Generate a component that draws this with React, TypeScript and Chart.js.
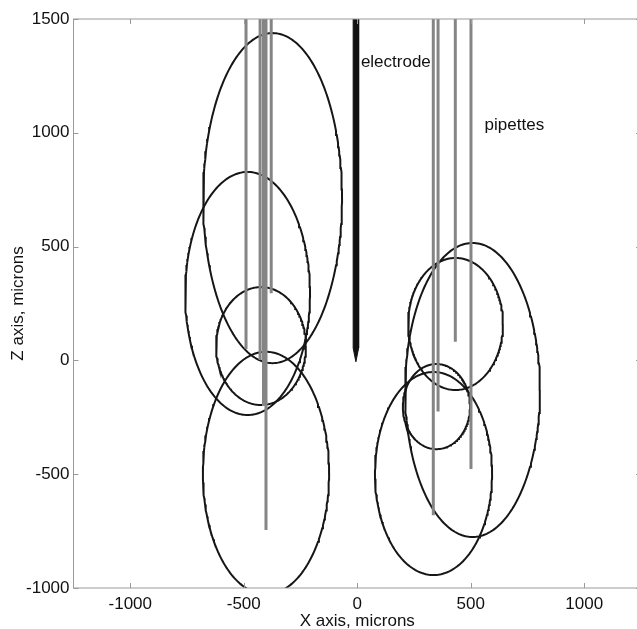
import React, { useEffect, useRef } from 'react';
import { Chart, registerables } from 'chart.js';

Chart.register(...registerables);

// Axis ticks
const xTickValues = [-1000, -500, 0, 500, 1000];
const zTickValues = [-1000, -500, 0, 500, 1000, 1500];

// Ellipses (centre and semi-axes, microns)
const ellipseCenterX = [-373, -483, -424, -402, 508, 433, 349, 336];
const ellipseCenterZ = [713, 294, 63, -495, -130, 160, -203, -497];
const ellipseRadiusX = [306, 275, 198, 278, 297, 209, 148, 258];
const ellipseRadiusZ = [725, 534, 259, 533, 646, 290, 187, 446];

// Pipettes (vertical gray shafts from the top down to the tip)
const pipetteX = [-490, -428, -413, -402, -379, 335, 356, 432, 501];
const pipetteTopZ = 1500;
const pipetteTipZ = [50, 2, -200, -745, 295, -680, -225, 82, -477];

// Electrode outline
const electrodeOutlineX = [-18, 6, 6, -6, -18, -18];
const electrodeOutlineZ = [1500, 1500, 54, -6, 54, 1500];

// Annotations
const annotationText = ['electrode', 'pipettes'];
const annotationX = [16, 561];
const annotationZ = [1290, 1012];

const FONT_FAMILY = '"Liberation Sans", Arial, Helvetica, sans-serif';
const TEXT_COLOR = '#111111';
const FRAME_COLOR = '#9a9a9a';

const framePlugin = {
  id: 'frameAndText',
  afterDatasetsDraw(chart: any) {
    const { ctx, chartArea, scales } = chart;
    const { left, right, top, bottom } = chartArea;
    ctx.save();
    ctx.strokeStyle = FRAME_COLOR;
    ctx.lineWidth = 1;
    ctx.strokeRect(left, top, right - left, bottom - top);
    const tl = 5;
    ctx.beginPath();
    xTickValues.forEach((v) => {
      const px = Math.round(scales.x.getPixelForValue(v)) + 0.5;
      ctx.moveTo(px, bottom);
      ctx.lineTo(px, bottom - tl);
      ctx.moveTo(px, top);
      ctx.lineTo(px, top + tl);
    });
    zTickValues.forEach((v) => {
      const py = Math.round(scales.y.getPixelForValue(v)) + 0.5;
      ctx.moveTo(left, py);
      ctx.lineTo(left + tl, py);
      ctx.moveTo(right, py);
      ctx.lineTo(right - tl, py);
    });
    ctx.stroke();

    ctx.fillStyle = TEXT_COLOR;
    ctx.font = `17px ${FONT_FAMILY}`;
    ctx.textAlign = 'left';
    ctx.textBaseline = 'alphabetic';
    annotationText.forEach((t, i) => {
      ctx.fillText(t, scales.x.getPixelForValue(annotationX[i]), scales.y.getPixelForValue(annotationZ[i]));
    });
    ctx.restore();
  },
};

export default function App() {
  const ref = useRef<HTMLCanvasElement>(null);

  useEffect(() => {
    const canvas = ref.current;
    if (!canvas) return;

    const ellipseSets = ellipseCenterX.map((cx, i) => {
      const pts: { x: number; y: number }[] = [];
      const n = 240;
      for (let k = 0; k <= n; k++) {
        const t = (k / n) * Math.PI * 2;
        pts.push({
          x: cx + ellipseRadiusX[i] * Math.cos(t),
          y: ellipseCenterZ[i] + ellipseRadiusZ[i] * Math.sin(t),
        });
      }
      return {
        data: pts,
        showLine: true,
        borderColor: '#161616',
        borderWidth: 2,
        pointRadius: 0,
        fill: false,
        tension: 0,
        order: 3,
      };
    });

    const pipetteSets = pipetteX.map((x, i) => ({
      data: [
        { x, y: pipetteTopZ },
        { x, y: pipetteTipZ[i] },
      ],
      showLine: true,
      borderColor: '#858585',
      borderWidth: 3,
      pointRadius: 0,
      fill: false,
      order: 2,
    }));

    const electrodeSet = {
      data: electrodeOutlineX.map((x, i) => ({ x, y: electrodeOutlineZ[i] })),
      showLine: true,
      borderColor: '#111111',
      backgroundColor: '#111111',
      borderWidth: 1,
      pointRadius: 0,
      fill: 'shape',
      tension: 0,
      order: 1,
    };

    const tickFont = { family: FONT_FAMILY, size: 17 };
    const titleFont = { family: FONT_FAMILY, size: 17, lineHeight: 0.9 };

    const chart = new Chart(canvas, {
      type: 'scatter',
      data: { datasets: [electrodeSet, ...pipetteSets, ...ellipseSets] as any },
      options: {
        responsive: false,
        devicePixelRatio: 1,
        animation: false,
        events: [],
        layout: { padding: { left: 0, top: 19, right: 4, bottom: 0 } },
        plugins: { legend: { display: false }, tooltip: { enabled: false } },
        scales: {
          x: {
            type: 'linear',
            min: -1250,
            max: 1250,
            afterBuildTicks: (s: any) => {
              s.ticks = xTickValues.map((v) => ({ value: v }));
            },
            afterFit: (s: any) => {
              s.height = 41;
            },
            grid: { display: false, drawTicks: false },
            border: { display: false },
            ticks: {
              padding: 6,
              font: tickFont,
              color: TEXT_COLOR,
              maxRotation: 0,
              autoSkip: false,
              callback: (v: any) => String(v),
            },
            title: {
              display: true,
              text: 'X axis, microns',
              font: titleFont,
              color: TEXT_COLOR,
              padding: { top: 0, bottom: 0 },
            },
          },
          y: {
            type: 'linear',
            min: -1000,
            max: 1500,
            afterBuildTicks: (s: any) => {
              s.ticks = zTickValues.map((v) => ({ value: v }));
            },
            afterFit: (s: any) => {
              s.width = 73.5;
            },
            grid: { display: false, drawTicks: false },
            border: { display: false },
            ticks: {
              padding: 4,
              font: tickFont,
              color: TEXT_COLOR,
              autoSkip: false,
              callback: (v: any) => String(v),
            },
            title: {
              display: true,
              text: 'Z axis, microns',
              font: titleFont,
              color: TEXT_COLOR,
              padding: { top: 11, bottom: 0 },
            },
          },
        },
      } as any,
      plugins: [framePlugin],
    });

    return () => chart.destroy();
  }, []);

  return (
    <div
      style={{
        position: 'fixed',
        left: 0,
        top: 0,
        width: 637,
        height: 629,
        overflow: 'hidden',
        background: '#ffffff',
      }}
    >
      <canvas ref={ref} width={645} height={629} style={{ display: 'block', width: 645, height: 629 }} />
    </div>
  );
}
